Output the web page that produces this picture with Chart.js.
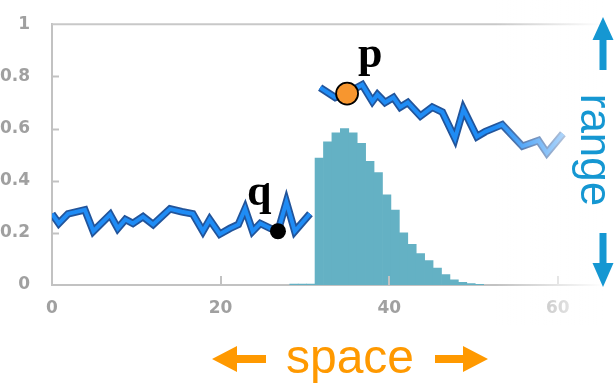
<!DOCTYPE html>
<html>
<head>
<meta charset="utf-8">
<script src="https://cdn.jsdelivr.net/npm/chart.js@4/dist/chart.umd.min.js"></script>
<style>
  html, body { margin: 0; padding: 0; background: #fff; }
  #wrap { position: relative; width: 614px; height: 386px; }
</style>
</head>
<body>
<div id="wrap"><canvas id="c" width="614" height="386"></canvas></div>
<script>
// Trace before the jump (space coordinate, range value)
const lowX = [0, 0.8, 1.9, 3.9, 4.9, 6.9, 7.8, 8.7, 9.6, 10.8, 12.0, 14.0, 15.4, 16.7, 17.9, 18.7, 19.9, 21.1, 22.1, 22.9, 23.8, 24.7, 25.9, 26.8, 27.8, 28.8, 30.6];
const lowY = [0.273, 0.236, 0.273, 0.288, 0.206, 0.270, 0.217, 0.251, 0.236, 0.262, 0.232, 0.292, 0.281, 0.273, 0.206, 0.251, 0.195, 0.217, 0.232, 0.292, 0.206, 0.236, 0.217, 0.206, 0.318, 0.206, 0.273];

// Trace after the jump
const highX = [31.8, 33.6, 35.0, 36.8, 38.0, 38.6, 39.5, 40.5, 41.3, 42.2, 43.7, 45.1, 46.3, 47.8, 48.8, 50.4, 51.4, 53.4, 55.8, 57.7, 58.7, 60.6];
const highY = [0.757, 0.719, 0.736, 0.768, 0.704, 0.730, 0.700, 0.719, 0.682, 0.700, 0.648, 0.682, 0.663, 0.562, 0.674, 0.569, 0.588, 0.615, 0.532, 0.554, 0.506, 0.580];

// Histogram of the spread (bin centres and heights)
const binX = [28.7, 29.7, 30.7, 31.7, 32.7, 33.7, 34.7, 35.7, 36.7, 37.7, 38.7, 39.7, 40.7, 41.7, 42.7, 43.7, 44.7, 45.7, 46.7, 47.7, 48.7, 49.7, 50.7];
const binY = [0.004, 0.004, 0.004, 0.487, 0.549, 0.583, 0.600, 0.583, 0.543, 0.474, 0.431, 0.346, 0.287, 0.200, 0.156, 0.120, 0.094, 0.065, 0.040, 0.020, 0.010, 0.005, 0.003];

// Highlighted samples
const markLabels = ['q', 'p'];
const markX = [26.8, 35.0];
const markY = [0.206, 0.734];

// Axis ticks
const xTicks = [0, 20, 40, 60];
const yTicks = [0, 0.2, 0.4, 0.6, 0.8, 1];

const zip = (xs, ys) => xs.map((x, i) => ({ x: x, y: ys[i] }));
const traceData = zip(lowX, lowY).concat([{ x: (lowX[lowX.length - 1] + highX[0]) / 2, y: null }], zip(highX, highY));

const tickFont = { family: '"DejaVu Sans", sans-serif', weight: 'bold', size: 17 };
const tickColor = '#a0a0a0';
const axisGray = '#c2c2c2';

function line(ctx, x1, y1, x2, y2) {
  ctx.beginPath(); ctx.moveTo(x1, y1); ctx.lineTo(x2, y2); ctx.stroke();
}

// Block arrow pointing from (x1,y1) to tip (x2,y2)
function arrow(ctx, x1, y1, x2, y2, shaft, headLen, headHalf, color) {
  const ang = Math.atan2(y2 - y1, x2 - x1);
  const len = Math.hypot(x2 - x1, y2 - y1);
  ctx.save();
  ctx.translate(x1, y1);
  ctx.rotate(ang);
  ctx.fillStyle = color;
  ctx.beginPath();
  ctx.moveTo(0, -shaft / 2);
  ctx.lineTo(len - headLen, -shaft / 2);
  ctx.lineTo(len - headLen, -headHalf);
  ctx.lineTo(len, 0);
  ctx.lineTo(len - headLen, headHalf);
  ctx.lineTo(len - headLen, shaft / 2);
  ctx.lineTo(0, shaft / 2);
  ctx.closePath();
  ctx.fill();
  ctx.restore();
}

const decor = {
  id: 'decor',
  afterDatasetsDraw(chart) {
    const { ctx, chartArea: a, scales: { x, y } } = chart;
    ctx.save();
    // top edge of the frame
    ctx.strokeStyle = '#c8c8c8';
    ctx.lineWidth = 2;
    line(ctx, a.left, a.top, a.right, a.top);
    // inward tick marks
    ctx.strokeStyle = axisGray;
    yTicks.forEach(v => {
      if (v <= 0 || v >= 1) return;
      const py = Math.round(y.getPixelForValue(v)) + 0.5;
      line(ctx, a.left, py, a.left + 7, py);
    });
    xTicks.forEach(v => {
      if (v === 0) return;
      const px = Math.round(x.getPixelForValue(v));
      line(ctx, px, a.bottom, px, a.bottom - 9);
    });
    // fade toward the right edge
    const g = ctx.createLinearGradient(495, 0, 603, 0);
    g.addColorStop(0, 'rgba(255,255,255,0)');
    g.addColorStop(1, 'rgba(255,255,255,1)');
    ctx.fillStyle = g;
    ctx.fillRect(495, 0, 119, 325);
    ctx.restore();
  },
  afterDraw(chart) {
    const { ctx, scales: { x, y } } = chart;
    ctx.save();
    // labels of the highlighted samples
    ctx.fillStyle = '#000';
    ctx.font = 'bold 44px "Liberation Serif", "Times New Roman", serif';
    ctx.textAlign = 'left';
    ctx.textBaseline = 'alphabetic';
    const offs = { q: [-31, -26], p: [11, -27] };
    markLabels.forEach((t, i) => {
      const px = x.getPixelForValue(markX[i]);
      const py = y.getPixelForValue(markY[i]);
      ctx.fillText(t, px + offs[t][0], py + offs[t][1]);
    });

    // "range" along the right edge
    const blue = '#1597d2';
    arrow(ctx, 603, 70, 603, 17, 7, 23, 10.5, blue);
    arrow(ctx, 603, 233, 603, 287, 7, 24, 10.5, blue);
    ctx.save();
    ctx.translate(581, 150);
    ctx.rotate(Math.PI / 2);
    ctx.fillStyle = blue;
    ctx.font = '44px "Liberation Sans", Arial, sans-serif';
    ctx.textAlign = 'center';
    ctx.textBaseline = 'alphabetic';
    ctx.fillText('range', 0, 0);
    ctx.restore();

    // "space" under the axis
    const orange = '#ff9900';
    arrow(ctx, 266, 359, 212, 359, 8, 25, 13, orange);
    arrow(ctx, 435, 359, 488, 359, 8, 25, 13, orange);
    ctx.fillStyle = orange;
    ctx.font = '48px "Liberation Sans", Arial, sans-serif';
    ctx.textAlign = 'center';
    ctx.fillText('space', 350, 373);
    ctx.restore();
  }
};

new Chart(document.getElementById('c'), {
  type: 'bar',
  data: {
    datasets: [
      {
        type: 'line',
        label: 'marks',
        data: zip(markX, markY),
        showLine: false,
        pointRadius: [8, 11],
        pointBackgroundColor: ['#000000', '#f7962f'],
        pointBorderColor: '#000000',
        pointBorderWidth: [0, 1.8],
        order: 1
      },
      {
        type: 'line',
        label: 'trace',
        data: traceData,
        borderColor: '#1f8cf5',
        borderWidth: 4,
        pointRadius: 0,
        tension: 0,
        spanGaps: false,
        borderJoinStyle: 'miter',
        order: 2
      },
      {
        type: 'line',
        label: 'trace edge',
        data: traceData,
        borderColor: '#22549a',
        borderWidth: 7.5,
        pointRadius: 0,
        tension: 0,
        spanGaps: false,
        borderJoinStyle: 'miter',
        order: 3
      },
      {
        type: 'bar',
        label: 'spread',
        data: zip(binX, binY),
        backgroundColor: '#64b1c4',
        borderWidth: 0,
        barPercentage: 1,
        categoryPercentage: 1,
        order: 4
      }
    ]
  },
  options: {
    responsive: false,
    animation: false,
    devicePixelRatio: 1,
    layout: { padding: { top: 18, right: 14, left: 0, bottom: 0 } },
    plugins: { legend: { display: false }, tooltip: { enabled: false } },
    scales: {
      x: {
        type: 'linear',
        min: 0,
        max: 65,
        offset: false,
        afterBuildTicks: s => { s.ticks = xTicks.map(v => ({ value: v })); },
        afterFit: s => { s.height = 101; },
        grid: { display: false },
        border: { display: true, color: axisGray, width: 2 },
        ticks: { color: tickColor, font: tickFont, padding: 5, maxRotation: 0, autoSkip: false }
      },
      y: {
        type: 'linear',
        min: 0,
        max: 1,
        afterBuildTicks: s => { s.ticks = yTicks.map(v => ({ value: v })); },
        afterFit: s => { s.width = 52; },
        grid: { display: false },
        border: { display: true, color: axisGray, width: 2 },
        ticks: { color: tickColor, font: tickFont, padding: 14, autoSkip: false, callback: v => String(v) }
      }
    }
  },
  plugins: [decor]
});
</script>
</body>
</html>
